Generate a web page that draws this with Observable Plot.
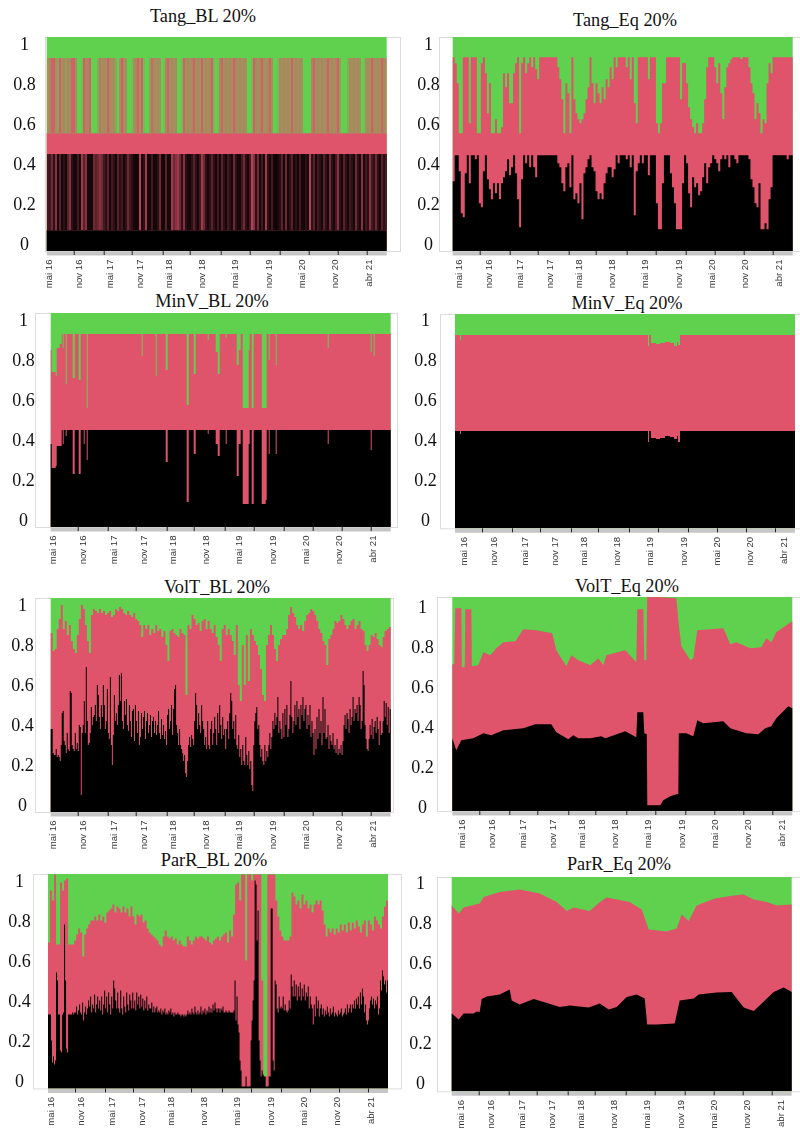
<!DOCTYPE html>
<html><head><meta charset="utf-8">
<script src="https://cdn.jsdelivr.net/npm/d3@7"></script>
<script src="https://cdn.jsdelivr.net/npm/@observablehq/plot@0.6"></script>
<style>
html,body{margin:0;background:#fff}
#page{position:relative;width:800px;height:1130px;overflow:hidden}
.t{position:absolute;transform:translate(-50%,-50%);font:18.3px "Liberation Serif",serif;color:#111;white-space:nowrap;z-index:3}
.p{position:absolute;filter:blur(.35px)}
</style></head><body><div id="page"></div>
<script>
const monthLabels=["mai 16","nov 16","mai 17","nov 17","mai 18","nov 18","mai 19","nov 19","mai 20","nov 20","abr 21"];
const labelTicks=[2,32,63,93,122,155,188,222,255,288,322];
const stripTicks=[27,57,85,116,143,174,203,233,262,291,320];
const yTicks=[0,.2,.4,.6,.8,1];

// Tang_BL flips between fixed levels; each column holds a mix of days, read as a share
const tangBlLevels=[.065,.445,.55,.925];
const tangBlBlackShare=[.7,.7,.5,.8,.4,.9,.6,.9,.8,.9,.6,.4,.8,.9,.9,.7,.9,
.3,.6,.4,.9,.9,.9,.5,.6,.5,.4,.5,.7,.8,.6,.9,.7,.8,
.9,.6,.8,.7,.9,.8,.5,.7,.8,.9,.95,.9,.2,.9,.8,.3,.9,
.9,.7,.9,.9,.8,.5,.9,.9,.6,.9,.9,.3,.5,.4,.3,.5,.8,
.4,.8,.9,.9,.8,.6,.8,.9,.7,.3,.5,.8,.9,.8,.6,.8,.9,
.7,.9,.6,.8,.9,.7,.8,.9,.5,.8,.9,.9,.7,.5,.8,.9,.7,
.2,.4,.8,.5,.9,.7,.9,.3,.8,.9,.7,.9,.95,.9,.8,.6,.9,
.5,.9,.8,.6,.9,.8,.9,.7,.9,.9,.8,.9,.2,.8,.6,.9,.7,
.8,.9,.6,.8,.9,.5,.8,.9,.7,.4,.8,.9,.6,.8,.9,.7,.8,
.9,.5,.8,.9,.4,.9,.7,.8,.4,.7,.8,.5,.8,.9,.6,.8,.7];
const tangBlRedShare=[.5,.6,.9,.9,.5,.4,.9,.5,.6,.4,.6,.5,.9,.9,.5,0,0,
.1,.9,.6,.6,.9,0,0,0,.3,.7,.5,.6,.5,.9,.6,.5,.6,
.3,0,.5,1,.5,.5,0,0,.1,.5,.6,.9,.5,.9,.2,0,0,
.4,.8,.6,.5,.6,.5,0,.1,.6,.9,.5,.6,.5,.6,0,0,.2,
.9,.5,.6,.5,.6,.9,.5,.6,.5,.9,.5,.6,.5,.6,.9,.2,0,
.1,.6,.9,.5,.6,.5,.6,.5,.9,.6,.5,.6,.5,.6,.5,0,0,
.2,.9,.6,.5,.6,.9,.5,.5,.6,.9,.5,0,0,.2,.6,.5,.6,
.5,.6,.5,.9,.5,.6,.5,.6,.5,0,0,0,0,.6,.9,.5,.6,
.5,.6,.5,.6,.9,.5,.6,.5,.6,.9,.4,0,0,0,.3,.6,.5,
.6,.5,.6,.5,0,.1,.5,.6,.5,.9,.6,.5,.6,.5,.9,.6,.5];

const tangEqBlack=[.31,.44,.44,.36,.15,.13,.35,.44,.3,.44,.44,.42,.44,.2,.18,.36,.44,
.32,.27,.22,.3,.25,.3,.22,.3,.33,.36,.42,.34,.38,.44,.35,.22,.08,
.32,.44,.4,.44,.38,.44,.38,.33,.44,.44,.44,.44,.44,.44,.44,.44,.44,
.44,.4,.38,.3,.26,.38,.4,.28,.44,.22,.25,.2,.3,.12,.35,.38,.42,
.44,.38,.36,.26,.22,.25,.22,.3,.35,.38,.38,.33,.37,.44,.4,.44,.44,
.44,.42,.44,.38,.44,.14,.36,.4,.44,.4,.44,.44,.34,.44,.44,.44,.2,
.07,.07,.3,.44,.44,.44,.35,.28,.2,.07,.07,.07,.3,.44,.4,.25,.18,
.33,.28,.3,.24,.26,.33,.4,.3,.38,.4,.44,.42,.4,.36,.42,.44,.42,
.44,.38,.44,.44,.42,.4,.44,.44,.44,.44,.44,.42,.32,.28,.2,.18,.3,
.07,.07,.1,.07,.22,.28,.44,.44,.44,.44,.44,.44,.44,.42,.44,.44,.35];
const tangEqRed=[.93,.9,.8,.55,.55,.93,.93,.93,.6,.93,.93,.93,.55,.55,.9,.93,.85,
.65,.8,.55,.55,.62,.55,.55,.58,.85,.78,.85,.7,.7,.85,.9,.93,.55,
.9,.93,.85,.9,.93,.88,.93,.87,.82,.93,.93,.93,.93,.93,.93,.93,.93,
.93,.88,.82,.72,.55,.8,.75,.55,.93,.72,.65,.62,.6,.62,.65,.72,.78,
.93,.8,.7,.8,.75,.7,.78,.72,.82,.78,.88,.82,.93,.88,.93,.93,.93,
.93,.88,.93,.82,.93,.7,.6,.93,.93,.93,.93,.93,.82,.93,.93,.93,.6,
.55,.6,.8,.8,.93,.93,.93,.93,.93,.93,.93,.72,.9,.9,.8,.68,.62,
.58,.55,.6,.55,.55,.6,.72,.88,.93,.93,.93,.88,.8,.9,.75,.62,.78,
.88,.9,.92,.93,.93,.93,.93,.92,.93,.93,.93,.88,.8,.75,.62,.7,.65,
.55,.62,.6,.8,.9,.85,.93,.93,.93,.93,.93,.93,.93,.93,.93,.93,.68];

const minvBlIndex=[0,1,5,6,9,11,12,13,15,16,22,24,28,30,33,34,36,37,91,92,105,106,115,117,136,138,143,145,157,158,165,167,169,175,176,186,188,190,192,198,199,201,203,211,215,216,218,219,225,226,277,278,320,321,323,324,340];
const minvBlBlack=[.38,.26,.27,.37,.37,.45,.38,.45,.42,.45,.23,.45,.23,.45,.38,.45,.3,.45,.45,.45,.45,.45,.29,.45,.09,.45,.33,.45,.43,.45,.38,.32,.45,.38,.45,.22,.38,.45,.08,.38,.45,.08,.45,.08,.1,.45,.33,.45,.33,.45,.38,.45,.35,.45,.45,.45,.45];
const minvBlRed=[.85,.74,.72,.86,.88,.93,.86,.93,.68,.93,.71,.93,.7,.93,.93,.93,.56,.93,.82,.93,.72,.93,.75,.93,.575,.93,.73,.93,.9,.93,.84,.73,.93,.91,.93,.775,.85,.93,.56,.85,.93,.56,.93,.56,.56,.93,.8,.93,.775,.93,.86,.93,.84,.93,.82,.93,.93];

const minvEqIndex=[0,5,6,193,194,196,201,205,210,215,219,222,223,225,340];
const minvEqBlack=[.445,.43,.445,.39,.445,.41,.405,.41,.42,.415,.405,.42,.39,.445,.445];
const minvEqRed=[.925,.9,.925,.87,.925,.885,.88,.885,.89,.885,.87,.89,.875,.925,.925];

const voltBlBlack=[.38,.38,.26,.25,.25,.28,.24,.25,.24,.22,.3,.46,.47,.32,.3,.26,.36,.28,.27,.57,.56,.3,.28,.27,.36,.28,.31,.27,.4,.39,.05,.36,.4,.52,
.36,.69,.42,.3,.31,.36,.49,.4,.44,.45,.5,.42,.6,.55,.44,.38,.5,.44,.6,.5,.38,.42,.58,.36,.33,.64,.3,.2,.35,.55,.42,.46,.4,.5,
.65,.52,.66,.42,.38,.52,.45,.53,.4,.37,.5,.42,.34,.47,.48,.32,.5,.42,.36,.47,.3,.34,.46,.38,.44,.47,.33,.42,.46,.36,.4,.45,.34,.42,
.44,.36,.42,.35,.4,.47,.36,.33,.43,.35,.4,.33,.37,.3,.45,.48,.38,.42,.5,.35,.48,.58,.6,.4,.36,.3,.38,.3,.28,.26,.22,.25,.16,.14,
.22,.3,.34,.29,.35,.33,.3,.42,.56,.5,.38,.46,.4,.36,.5,.42,.38,.3,.34,.28,.42,.3,.28,.38,.42,.3,.36,.44,.38,.3,.46,.36,.5,.4,
.33,.44,.35,.38,.28,.38,.42,.33,.46,.56,.52,.38,.42,.33,.45,.3,.28,.35,.24,.28,.2,.3,.22,.2,.34,.25,.2,.27,.18,.22,.1,.07,.3,.42,
.46,.49,.38,.4,.3,.24,.28,.22,.2,.3,.22,.27,.24,.3,.36,.28,.34,.42,.38,.46,.4,.44,.54,.36,.42,.38,.33,.46,.34,.48,.4,.5,.34,.38,
.45,.62,.44,.36,.42,.5,.4,.52,.44,.48,.38,.5,.45,.54,.42,.48,.5,.38,.45,.4,.5,.34,.42,.36,.25,.38,.28,.44,.33,.48,.36,.42,.3,.54,
.36,.48,.33,.34,.4,.28,.35,.32,.3,.36,.28,.3,.26,.33,.25,.28,.26,.3,.25,.32,.4,.45,.38,.46,.43,.36,.48,.4,.44,.54,.42,.48,.46,.5,
.42,.54,.5,.38,.42,.67,.6,.4,.33,.28,.27,.33,.4,.35,.43,.33,.39,.42,.36,.44,.38,.3,.42,.35,.36,.42,.52,.44,.51,.4,.49,.36,.48,.44];
const voltBlRed=[.86,.77,.78,.88,.93,1,.88,.92,.85,.9,.82,.78,.76,.85,.93,1,.98,
.9,.82,.76,.95,.98,.97,.96,.98,.96,.97,.95,.96,.97,.94,.95,.98,.97,
.99,.98,.96,.95,.97,.95,.94,.96,.93,.92,.9,.84,.9,.88,.9,.85,.88,
.86,.9,.87,.88,.84,.87,.8,.72,.87,.88,.86,.85,.84,.88,.86,.85,.55,
.9,.88,.95,.93,.9,.91,.87,.92,.93,.88,.92,.88,.86,.9,.84,.8,.72,
.88,.9,.85,.88,.85,.82,.75,.9,.6,.52,.8,.6,.85,.62,.88,.85,.82,
.8,.75,.68,.55,.52,.8,.85,.9,.85,.78,.72,.8,.83,.85,.85,.88,.95,
.99,.96,.94,.9,.88,.9,.87,.92,.95,.96,.98,.97,.95,.92,.88,.86,.82,
.8,.7,.83,.85,.88,.92,.91,.92,.95,.93,.9,.88,.9,.92,.93,.88,.9,
.92,.88,.87,.8,.77,.8,.85,.84,.86,.83,.8,.79,.84,.87,.88,.89,.93];

const voltEqBlackIndex=[0,4,9,21,31,39,51,71,83,99,104,116,121,126,138,149,153,173,184,185,191,192,194.5,195,208,211,218,224,226,226.5,234,241,245,251,271,278,294,306,313,319,324,336,340];
const voltEqBlack=[.34,.28,.33,.34,.365,.355,.38,.39,.41,.41,.37,.335,.355,.34,.34,.35,.34,.375,.345,.47,.47,.365,.36,.005,.005,.03,.05,.06,.06,.365,.365,.35,.43,.415,.425,.39,.365,.36,.39,.4,.44,.5,.49];
const voltEqRedIndex=[0,2,3,9,9.5,12.5,13,19,19.5,26,31,38,44,51,63,71,84,100,104,114,119,126,138,146,151,154,173,184,185,191,192,194,195,224,225,226,229,238,241,245,271,278,284,298,309,314,319,324,340];
const voltEqRed=[.71,.71,.99,.99,.695,.695,.985,.985,.7,.705,.77,.755,.79,.82,.825,.885,.88,.865,.78,.7,.755,.73,.705,.74,.705,.755,.78,.72,.985,.985,.73,.73,1.05,1.04,.99,.93,.8,.73,.74,.88,.89,.81,.82,.79,.795,.84,.82,.87,.925];

const parrBlBlack=[.33,.33,.33,.2,.09,.12,.08,.1,.54,.5,.33,.33,.15,.14,.33,.34,.78,.5,.16,.14,.33,.33,.33,.33,.34,.33,.34,.34,.37,.33,.35,.38,.34,.33,
.39,.3,.34,.37,.33,.36,.4,.37,.42,.34,.38,.36,.43,.34,.38,.42,.36,.4,.35,.42,.33,.38,.45,.36,.42,.34,.44,.38,.33,.42,.36,.5,.46,.4,
.36,.44,.36,.34,.45,.36,.33,.42,.37,.34,.44,.38,.35,.43,.4,.36,.44,.36,.4,.35,.44,.38,.42,.36,.43,.37,.41,.35,.4,.36,.42,.35,.38,.36,
.36,.39,.34,.37,.34,.36,.37,.34,.35,.34,.36,.33,.35,.34,.36,.33,.34,.33,.35,.34,.36,.33,.34,.32,.34,.33,.33,.34,.33,.33,.32,.33,.33,.32,
.33,.32,.33,.35,.33,.34,.33,.36,.34,.33,.37,.34,.33,.35,.33,.34,.37,.33,.35,.34,.36,.33,.35,.34,.37,.34,.36,.34,.38,.35,.39,.36,.34,.36,
.36,.34,.36,.35,.37,.34,.34,.35,.34,.34,.35,.34,.34,.34,.34,.35,.5,.3,.42,.28,.24,.1,.05,-.03,-.03,-.03,-.03,.02,-.03,-.03,-.03,-.03,.2,.3,
.4,.5,1,.98,.7,.85,.2,.1,.02,.05,.03,.02,.02,-.03,-.03,-.03,.02,.02,.86,.86,.1,.05,.5,.48,.36,.34,.42,.36,.37,.36,.42,.35,.38,.35,
.34,.35,.4,.36,.53,.47,.42,.5,.42,.48,.4,.47,.42,.49,.4,.46,.42,.48,.4,.44,.42,.47,.36,.42,.38,.36,.28,.38,.32,.42,.36,.4,.32,.36,
.38,.33,.36,.32,.35,.33,.37,.34,.32,.36,.33,.34,.37,.32,.34,.33,.32,.35,.33,.34,.36,.32,.33,.34,.36,.33,.38,.34,.36,.38,.34,.38,.36,.4,
.36,.41,.38,.42,.36,.44,.38,.46,.42,.34,.38,.3,.28,.3,.36,.4,.42,.38,.41,.36,.4,.38,.42,.33,.36,.5,.45,.55,.52,.48,.5,.44,.5,.35];
const parrBlRed=[.69,.95,.9,1.03,.68,.68,.99,.95,1,1.01,.68,.68,.68,.7,.73,.76,.74,
.62,.73,.76,.78,.8,.8,.82,.8,.83,.8,.82,.79,.84,.85,.86,.88,.84,
.87,.86,.84,.87,.84,.86,.82,.87,.82,.78,.83,.82,.83,.79,.8,.76,.74,
.73,.72,.71,.7,.68,.67,.72,.75,.72,.71,.72,.7,.71,.68,.7,.68,.67,
.67,.72,.7,.68,.7,.72,.71,.72,.72,.71,.7,.72,.69,.68,.7,.71,.72,
.7,.72,.73,.74,.69,.75,.72,.83,.98,.99,.9,1.03,1.03,.6,1.03,1.03,1,
1.03,1.03,1.03,1.03,.5,.02,.02,1.03,1.03,1.03,1.03,.9,.82,.75,.72,.7,.7,
.7,.72,.94,.92,.88,.9,.86,.93,.88,.9,.86,.88,.84,.88,.9,.88,.9,
.85,.78,.72,.76,.74,.76,.73,.76,.74,.78,.75,.78,.74,.79,.75,.79,.76,
.8,.77,.74,.78,.8,.72,.8,.78,.75,.82,.8,.78,.76,.82,.87,.9,.95];

const parrEqBlackIndex=[0,7,12,22,25,28,30,35,48,58,60,68,82,92,108,118,137,148,157,165,175,185,193,195.5,205,223,228,242,247,265,280,292,302,310,322,332,340];
const parrEqBlack=[.347,.317,.347,.347,.358,.355,.42,.433,.443,.467,.413,.393,.42,.405,.38,.388,.377,.397,.367,.38,.43,.443,.422,.293,.293,.297,.413,.422,.443,.452,.455,.377,.36,.397,.455,.477,.455];
const parrEqRedIndex=[0,7,12,28,32,48,68,88,105,115,122,138,147,155,178,190,197,215,225,230,237,245,263,282,292,302,315,325,340];
const parrEqRed=[.888,.847,.877,.897,.93,.955,.967,.947,.905,.86,.877,.86,.9,.927,.905,.867,.767,.757,.772,.843,.81,.888,.922,.938,.943,.917,.905,.888,.893];

const even=a=>a.map((_,i)=>i*340/(a.length-1));
const flatIndex=[0,340];
const panels=[
{title:"Tang_BL 20%",tx:203,ty:16,L:46.7,T:36.7,B:250.7,y0:243,y1:43,cx:24,fl:45,fr:400,ox:0,shift:0,black:[flatIndex,[tangBlLevels[0],tangBlLevels[0]]],red:[flatIndex,[tangBlLevels[2],tangBlLevels[2]]],curve:"linear",mix:true},
{title:"Tang_Eq 20%",tx:625,ty:20,L:452.7,T:36.7,B:250.7,y0:243,y1:43,cx:428,fl:439,fr:800,ox:400,shift:4,black:[even(tangEqBlack),tangEqBlack],red:[even(tangEqRed),tangEqRed],curve:"step-after"},
{title:"MinV_BL 20%",tx:212,ty:301,L:50.7,T:313,B:527,y0:520,y1:320,cx:23,fl:35,fr:397,ox:0,shift:0,black:[minvBlIndex,minvBlBlack],red:[minvBlIndex,minvBlRed],curve:"step-after"},
{title:"MinV_Eq 20%",tx:627,ty:303,L:455,T:314,B:528.3,y0:520,y1:320,cx:425,fl:440,fr:800,ox:400,shift:6,black:[minvEqIndex,minvEqBlack],red:[minvEqIndex,minvEqRed],curve:"step-after"},
{title:"VolT_BL 20%",tx:217,ty:587,L:50.7,T:598,B:812,y0:805,y1:605,cx:22,fl:35,fr:393,ox:0,shift:0,black:[even(voltBlBlack),voltBlBlack],red:[even(voltBlRed),voltBlRed],curve:"step-after"},
{title:"VolT_Eq 20%",tx:627,ty:586,L:452.3,T:596.7,B:810.7,y0:806,y1:606,cx:422,fl:437,fr:800,ox:400,shift:7,black:[voltEqBlackIndex,voltEqBlack],red:[voltEqRedIndex,voltEqRed],curve:"linear"},
{title:"ParR_BL 20%",tx:214,ty:860,L:48,T:874.3,B:1088.7,y0:1080.7,y1:880.7,cx:19,fl:33,fr:401,ox:0,shift:0,black:[even(parrBlBlack),parrBlBlack],red:[even(parrBlRed),parrBlRed],curve:"step-after"},
{title:"ParR_Eq 20%",tx:619,ty:864,L:451.7,T:876.7,B:1091,y0:1082.7,y1:882.7,cx:420,fl:437,fr:800,ox:400,shift:7,black:[parrEqBlackIndex,parrEqBlack],red:[parrEqRedIndex,parrEqRed],curve:"linear"}
];
const GREEN="#5fd14f",RED="#df536b",BLACK="#000";
const page=document.getElementById("page");
const column=shares=>shares.map((s,i)=>({a:i*340/shares.length,b:(i+1)*340/shares.length,s}));
for(const p of panels){
  const top=p.T-6,bottom=p.B+40,right=p.ox+400;
  const scale=p.y0-p.y1;
  const yDomain=[(p.y0-p.B)/scale,(p.y0-p.T)/scale];
  const row=([xs,ys])=>ys.map((v,i)=>({x:xs[i],v}));
  const mixMarks=p.mix?[
    Plot.rect(column(tangBlRedShare),{x1:"a",x2:"b",y1:()=>tangBlLevels[2],y2:()=>tangBlLevels[3],fill:RED,fillOpacity:"s",shapeRendering:"crispEdges"}),
    Plot.rect(column(tangBlBlackShare),{x1:"a",x2:"b",y1:()=>tangBlLevels[0],y2:()=>tangBlLevels[1],fill:BLACK,fillOpacity:"s",shapeRendering:"crispEdges"})
  ]:[];
  const chart=Plot.plot({
    width:right-p.ox,height:bottom-top,
    marginLeft:p.fl-p.ox,marginRight:right-p.fr,marginTop:p.T-top,marginBottom:bottom-p.B,
    x:{domain:[p.fl-p.L,p.fr-p.L],axis:null},
    y:{domain:yDomain,axis:null},
    opacity:{type:"identity"},
    style:{background:"transparent",overflow:"visible"},
    marks:[
      Plot.frame({stroke:"#dcdcdc"}),
      Plot.areaY([0,340],{x:d=>d,y1:()=>yDomain[0],y2:()=>yDomain[1],fill:GREEN}),
      Plot.areaY(row(p.red),{x:"x",y1:()=>yDomain[0],y2:"v",fill:RED,curve:p.curve,clip:true}),
      ...mixMarks,
      Plot.areaY(row(p.black),{x:"x",y1:()=>yDomain[0],y2:"v",fill:BLACK,curve:p.curve,clip:true}),
      Plot.ruleY([yDomain[0]],{x1:0,x2:340,stroke:"#c6c6c6",strokeWidth:4,dy:2}),
      Plot.axisX({anchor:"bottom",ticks:stripTicks,tickSize:4,stroke:"#222",tickFormat:()=>"",label:null}),
      Plot.axisX({anchor:"bottom",ticks:labelTicks,tickFormat:d=>monthLabels[labelTicks.indexOf(d)],tickSize:0,tickRotate:-90,tickPadding:8,dx:p.shift,fontSize:9.6,fontFamily:"Liberation Sans",fill:"#333",label:null}),
      Plot.axisY({anchor:"left",ticks:yTicks,tickFormat:d=>String(d),tickSize:0,tickPadding:p.fl-p.cx,textAnchor:"middle",fontSize:18,fontFamily:"Liberation Serif",fill:"#111",label:null})
    ]
  });
  chart.classList.add("p");
  chart.style.left=p.ox+"px";chart.style.top=top+"px";
  page.appendChild(chart);
  const t=document.createElement("div");
  t.className="t";t.textContent=p.title;t.style.left=p.tx+"px";t.style.top=p.ty+"px";
  page.appendChild(t);
}
</script></body></html>
